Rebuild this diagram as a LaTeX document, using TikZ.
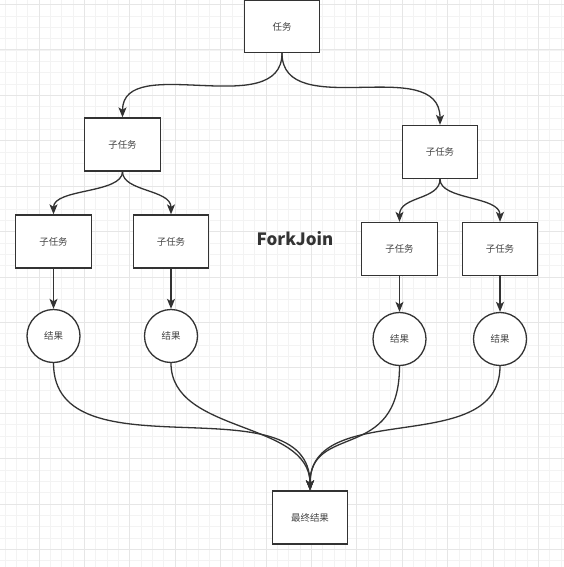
\documentclass[tikz,border=0pt]{standalone}
\usepackage{fontspec}
\newfontfamily\cjk{Noto Sans CJK SC}
\usetikzlibrary{arrows.meta}
\definecolor{ink}{HTML}{333333}
\definecolor{txt}{HTML}{444444}
\definecolor{gridminor}{HTML}{F3F3F3}
\definecolor{gridmajor}{HTML}{E6E6E6}
\tikzset{
  stepbox/.style={draw=ink, line width=1.3bp, fill=white, minimum width=75.5bp, minimum height=53bp, inner sep=0pt, font=\cjk\fontsize{9.5}{11}\selectfont, text=txt},
  resnode/.style={circle, draw=ink, line width=1.3bp, fill=white, minimum size=53bp, inner sep=0pt, font=\cjk\fontsize{9.5}{11}\selectfont, text=txt},
  arr/.style={draw=ink, line width=1.3bp, -{Stealth[length=10bp,width=8bp,inset=2.5bp]}},
  gmin/.style={draw=gridminor, line width=0.8bp},
  gmaj/.style={draw=gridmajor, line width=1bp}
}
\begin{document}
\begin{tikzpicture}[x=1bp,y=-1bp]
\fill[white] (0,0) rectangle (564,567);
\useasboundingbox (0,0) rectangle (564,567);
% grid
\foreach \i in {0,...,49} {
  \pgfmathsetmacro\gx{4.95+11.35*\i}
  \draw[gmin] (\gx,0) -- (\gx,567);
  \pgfmathsetmacro\gy{4.6+11.35*\i}
  \draw[gmin] (0,\gy) -- (564,\gy);
}
\foreach \i in {0,...,11} {
  \pgfmathsetmacro\gx{39+45.4*\i}
  \draw[gmaj] (\gx,0) -- (\gx,567);
}
\foreach \i in {0,...,12} {
  \pgfmathsetmacro\gy{4.6+45.4*\i}
  \draw[gmaj] (0,\gy) -- (564,\gy);
}
% nodes
\node[stepbox, minimum height=52bp] (top) at (282,26.5) {任务};
\node[stepbox] (l1) at (122.5,144.5) {子任务};
\node[stepbox] (r1) at (440,152) {子任务};
\node[stepbox] (ll) at (53.5,241.5) {子任务};
\node[stepbox] (lr) at (171,241.5) {子任务};
\node[stepbox] (rl) at (399.5,249) {子任务};
\node[stepbox] (rr) at (500,249) {子任务};
\node[resnode] (cll) at (53.5,336) {结果};
\node[resnode] (clr) at (171,336) {结果};
\node[resnode] (crl) at (399.5,339) {结果};
\node[resnode] (crr) at (500,339) {结果};
\node[stepbox] (fin) at (310,517.5) {最终结果};
\node[font=\cjk\bfseries\fontsize{17}{20}\selectfont, text=ink] (title) at (295,239) {ForkJoin};
% connectors
\draw[arr] (top.south) .. controls +(0,69) and +(0,-66) .. (l1.north);
\draw[arr] (top.south) .. controls +(0,70) and +(0,-72) .. (r1.north);
\draw[arr] (l1.south) .. controls +(0,22) and +(0,-26) .. (ll.north);
\draw[arr] (l1.south) .. controls +(0,20) and +(0,-25) .. (lr.north);
\draw[arr] (r1.south) .. controls +(0,21) and +(0,-26) .. (rl.north);
\draw[arr] (r1.south) .. controls +(0,21) and +(0,-26) .. (rr.north);
\draw[arr] (ll) -- (cll);
\draw[arr] (lr) -- (clr);
\draw[arr] (rl) -- (crl);
\draw[arr] (rr) -- (crr);
\draw[arr] (cll.south) .. controls +(0,116) and +(0,-112) .. (fin.north);
\draw[arr] (clr.south) .. controls +(0,71) and +(0,-70) .. (fin.north);
\draw[arr] (crl.south) .. controls +(0,97) and +(0,-68) .. (fin.north);
\draw[arr] (crr.south) .. controls +(0,93) and +(0,-93) .. (fin.north);
\end{tikzpicture}
\end{document}
